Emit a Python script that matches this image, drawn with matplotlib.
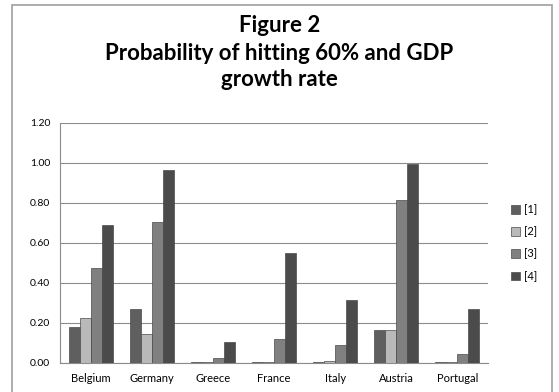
import numpy as np
import matplotlib.pyplot as plt
from matplotlib.patches import Rectangle

countries = ["Belgium", "Germany", "Greece", "France", "Italy", "Austria", "Portugal"]
s1 = [0.18, 0.27, 0.006, 0.005, 0.005, 0.167, 0.004]
s2 = [0.227, 0.147, 0.006, 0.005, 0.009, 0.167, 0.004]
s3 = [0.477, 0.703, 0.025, 0.12, 0.088, 0.814, 0.047]
s4 = [0.692, 0.966, 0.106, 0.55, 0.317, 0.994, 0.272]
series = [s1, s2, s3, s4]
labels = ["[1]", "[2]", "[3]", "[4]"]
colors = ["#5f5f5f", "#b9b9b9", "#808080", "#4b4b4b"]

plt.rcParams['font.family'] = ['Lato', 'DejaVu Sans']

fig = plt.figure(figsize=(5.59, 3.92), dpi=100)
# outer chart border
fig.patches.append(Rectangle((12 / 559, -0.05), 540 / 559, 1 - 5 / 392 + 0.05,
                             transform=fig.transFigure, fill=False,
                             edgecolor="#a0a0a0", linewidth=1.2))

ax = fig.add_axes([60 / 559, 1 - 363 / 392, 428 / 559, 240 / 392])
x = np.arange(len(countries))
w = 0.18
for i, (vals, lab, col) in enumerate(zip(series, labels, colors)):
    ax.bar(x + (i - 1.5) * w, vals, w, color=col, edgecolor="#4a4a4a",
           linewidth=0.5, label=lab, zorder=3)

ax.set_xlim(-0.5, len(countries) - 0.5)
ax.set_ylim(0, 1.2)
ax.set_yticks(np.arange(0, 1.21, 0.2))
ax.set_yticklabels([f"{v:.2f}" for v in np.arange(0, 1.21, 0.2)], fontsize=7.5)
ax.set_xticks(x)
ax.set_xticklabels(countries, fontsize=8)
ax.tick_params(length=0, pad=7)
ax.grid(axis="y", color="#8c8c8c", linewidth=0.8, zorder=0)
for side in ["top", "right"]:
    ax.spines[side].set_visible(False)
ax.spines["left"].set_color("#8c8c8c")
ax.spines["bottom"].set_color("#8c8c8c")

ax.legend(loc="center left", bbox_to_anchor=(1.03, 0.5), frameon=False,
          fontsize=8, handlelength=0.8, handleheight=0.8, labelspacing=1.0,
          handletextpad=0.4)

fig.text(0.5, 1 - 25 / 392, "Figure 2", ha="center", va="center",
         fontsize=16, fontweight="bold")
fig.text(0.5, 1 - 53 / 392, "Probability of hitting 60% and GDP", ha="center",
         va="center", fontsize=16, fontweight="bold")
fig.text(0.5, 1 - 80 / 392, "growth rate", ha="center", va="center",
         fontsize=16, fontweight="bold")

fig.savefig("out.png", dpi=100)
